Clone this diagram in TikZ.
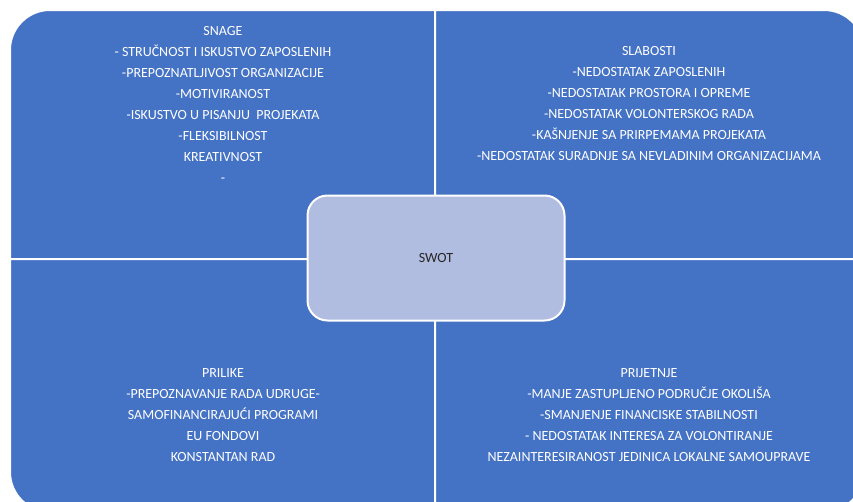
\documentclass[tikz,border=0pt]{standalone}
\usepackage{fontspec}
\setmainfont{Carlito}
\definecolor{swotblue}{HTML}{4472C4}
\definecolor{swotlight}{HTML}{B0BCE0}

\begin{document}
\begin{tikzpicture}[x=1pt, y=-1pt,
    quad/.style={fill=swotblue, draw=white, line width=2pt},
    txt/.style={text=white, align=center, inner sep=0pt, font=\fontsize{14}{21}\selectfont},
    centerbox/.style={rectangle, rounded corners=20pt, fill=swotlight, draw=white, line width=2pt,
        minimum width=257pt, minimum height=125pt, font=\fontsize{14}{21}\selectfont, text=black!85}]
    \useasboundingbox (0,0) rectangle (853,501);
    \clip (0,0) rectangle (853,501);

    % Draw quadrants
    \draw[quad] (10,259) [rounded corners=40pt] -- (10,10) [sharp corners] -- (435,10) -- (435,259) -- cycle;
    \draw[quad] (435,10) [rounded corners=40pt] -- (864,10) [sharp corners] -- (864,259) -- (435,259) -- cycle;
    \draw[quad] (435,259) -- (10,259) [rounded corners=40pt] -- (10,512) [sharp corners] -- (435,512) -- cycle;
    \draw[quad] (435,512) [rounded corners=40pt] -- (864,512) [sharp corners] -- (864,259) -- (435,259) -- cycle;

    % Draw centre
    \node[centerbox] (swot) at (436,258) {SWOT};

    % Labels
    \node[txt] (snage) at (223,104) {SNAGE\\- STRUČNOST I ISKUSTVO ZAPOSLENIH\\-PREPOZNATLJIVOST ORGANIZACIJE\\-MOTIVIRANOST\\-ISKUSTVO U PISANJU\ \ PROJEKATA\\-FLEKSIBILNOST\\KREATIVNOST\\-};
    \node[txt] (slabosti) at (649,104) {SLABOSTI\\-NEDOSTATAK ZAPOSLENIH\\-NEDOSTATAK PROSTORA I OPREME\\-NEDOSTATAK VOLONTERSKOG RADA\\-KAŠNJENJE SA PRIRPEMAMA PROJEKATA\\-NEDOSTATAK SURADNJE SA NEVLADINIM ORGANIZACIJAMA};
    \node[txt] (prilike) at (223,415) {PRILIKE\\-PREPOZNAVANJE RADA UDRUGE-\\SAMOFINANCIRAJUĆI PROGRAMI\\EU FONDOVI\\KONSTANTAN RAD};
    \node[txt] (prijetnje) at (649,415) {PRIJETNJE\\-MANJE ZASTUPLJENO PODRUČJE OKOLIŠA\\-SMANJENJE FINANCISKE STABILNOSTI\\- NEDOSTATAK INTERESA ZA VOLONTIRANJE\\NEZAINTERESIRANOST JEDINICA LOKALNE SAMOUPRAVE};
\end{tikzpicture}
\end{document}
